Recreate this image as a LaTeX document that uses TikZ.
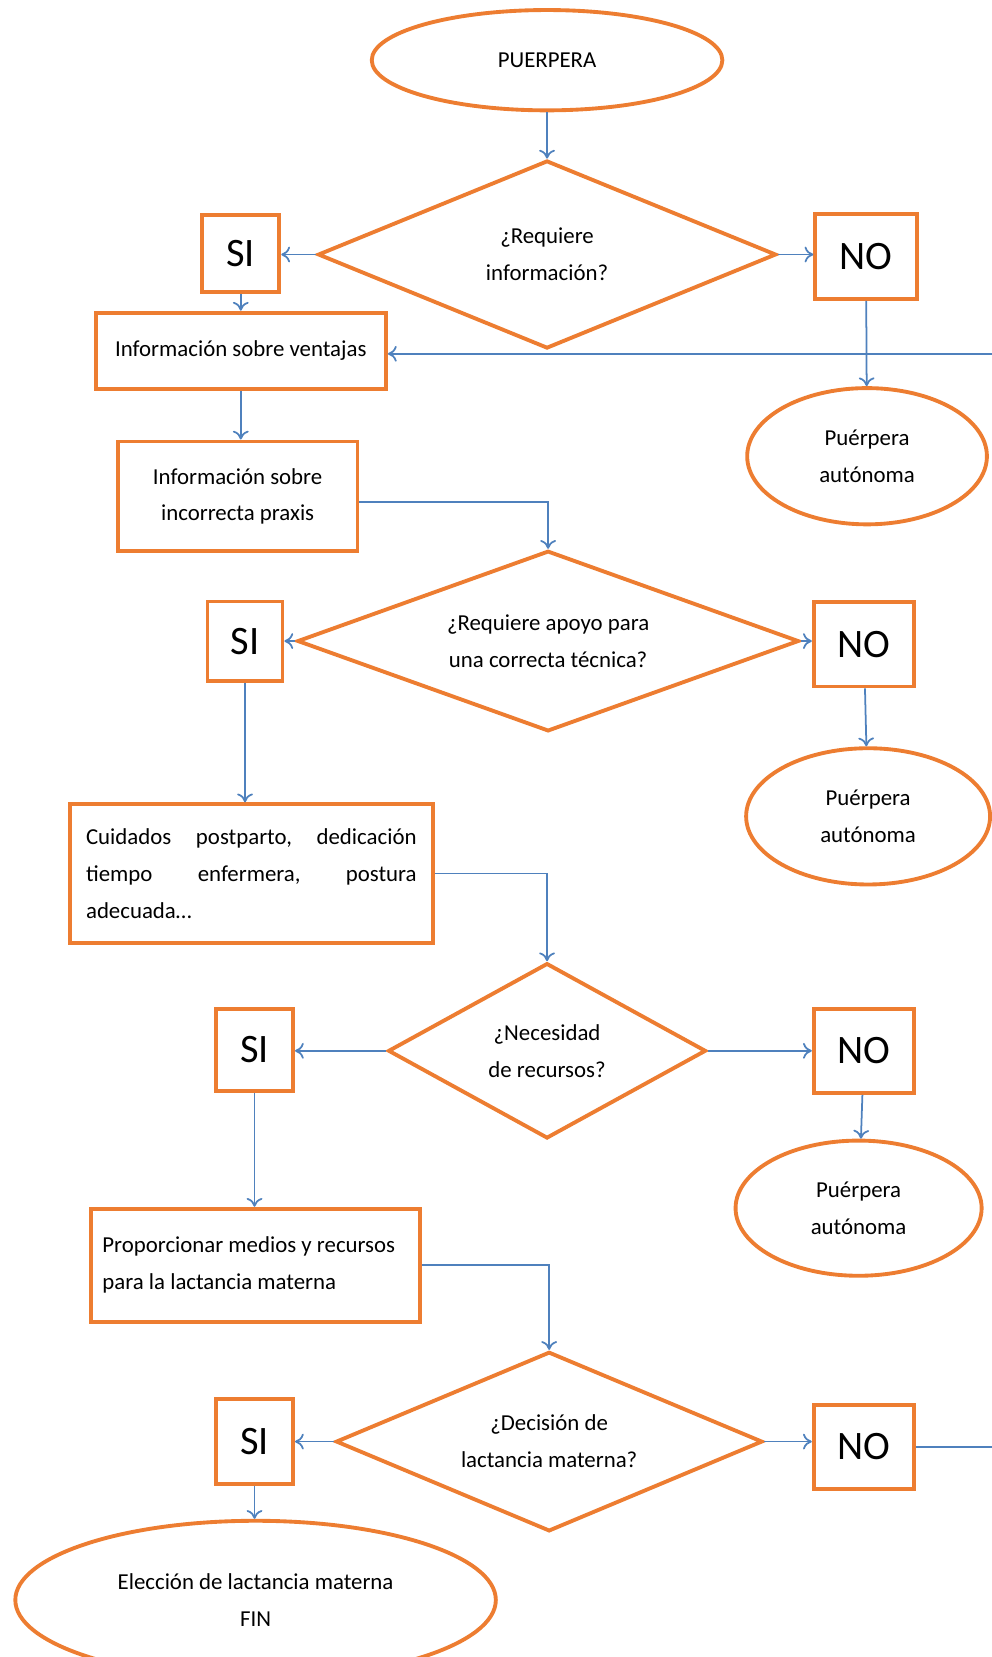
\documentclass[tikz,border=0pt]{standalone}
\usepackage{fontspec}
\setmainfont{Carlito}
\usepackage{xcolor}
\usepackage{tikz}
\usetikzlibrary{shapes.geometric}
\usetikzlibrary{arrows.meta}
\definecolor{naranja}{RGB}{237,125,49}
\definecolor{azul}{RGB}{79,129,189}
\tikzset{borde/.style={draw=naranja, line width=2.2pt, fill=white, inner sep=2pt}}
\tikzset{elipse/.style={borde, ellipse, align=center, font=\fontsize{13}{21}\selectfont}}
\tikzset{rombo/.style={borde, diamond, inner sep=0pt, align=center, font=\fontsize{13}{21}\selectfont}}
\tikzset{caja/.style={borde, rectangle, font=\fontsize{13}{21}\selectfont}}
\tikzset{resp/.style={borde, rectangle, font=\fontsize{23}{28}\selectfont}}
\tikzset{flecha/.style={draw=azul, line width=1pt, -{To[length=5pt,width=9pt]}}}

\begin{document}
\begin{tikzpicture}[x=0.02113cm, y=-0.02113cm]
\def\px{0.02113cm}
\useasboundingbox (0,0) rectangle (939,1569);

% inicio y primera pregunta
\node[elipse, minimum width=332*\px, minimum height=95*\px] (puerpera) at (518,57) {PUERPERA};
\node[rombo, aspect=2.44, minimum width=434*\px, minimum height=178*\px] (preg1) at (518,241) {¿Requiere\\información?};
\node[resp, minimum width=73*\px, minimum height=73*\px] (si1) at (228,240) {SI};
\node[resp, minimum width=96*\px, minimum height=80*\px] (no1) at (820,243) {NO};
\node[caja, minimum width=275*\px, minimum height=72*\px] (ventajas) at (228,332) {Información sobre ventajas};
\node[elipse, minimum width=227*\px, minimum height=129*\px] (auto1) at (821,432) {Puérpera\\autónoma};
\node[caja, align=center, minimum width=227*\px, minimum height=104*\px] (praxis) at (225,470) {Información sobre\\incorrecta praxis};

% segunda pregunta
\node[rombo, aspect=2.78, minimum width=475*\px, minimum height=171*\px] (preg2) at (519,607) {¿Requiere apoyo para\\una correcta técnica?};
\node[resp, minimum width=71*\px, minimum height=75*\px] (si2) at (232,607) {SI};
\node[resp, minimum width=95*\px, minimum height=80*\px] (no2) at (818,610) {NO};
\node[elipse, minimum width=231*\px, minimum height=129*\px] (auto2) at (822,773) {Puérpera\\autónoma};
\node[caja, align=left, text width=313*\px, minimum width=344*\px, minimum height=131*\px] (cuidados) at (238,827)
  {Cuidados\hfill postparto,\hfill dedicación\\tiempo\hfill enfermera,\hfill postura\\adecuada…};

% tercera pregunta
\node[rombo, aspect=1.81, minimum width=301*\px, minimum height=166*\px] (preg3) at (518,995) {¿Necesidad\\de recursos?};
\node[resp, minimum width=73*\px, minimum height=78*\px] (si3) at (241,994) {SI};
\node[resp, minimum width=95*\px, minimum height=80*\px] (no3) at (818,995) {NO};
\node[elipse, minimum width=233*\px, minimum height=128*\px] (auto3) at (813,1144) {Puérpera\\autónoma};
\node[caja, align=flush left, text width=290*\px, minimum width=311*\px, minimum height=107*\px] (medios) at (242,1198)
  {Proporcionar medios y recursos\\para la lactancia materna};

% cuarta pregunta
\node[rombo, aspect=2.38, minimum width=404*\px, minimum height=170*\px] (preg4) at (520,1365) {¿Decisión de\\lactancia materna?};
\node[resp, minimum width=73*\px, minimum height=80*\px] (si4) at (241,1365) {SI};
\node[resp, minimum width=95*\px, minimum height=80*\px] (no4) at (818,1370) {NO};
\node[elipse, minimum width=455*\px, minimum height=150*\px] (fin) at (242,1515) {Elección de lactancia materna\\FIN};

\draw[flecha] (puerpera) -- (preg1);
\draw[flecha] (preg1.west) -- (preg1.west -| si1.east);
\draw[flecha] (preg1.east) -- (preg1.east -| no1.west);
\draw[flecha] (si1) -- (si1 |- ventajas.north);
\draw[flecha] (no1) -- (auto1);
\draw[flecha] (ventajas.south) -- (ventajas.south |- praxis.north);
\draw[flecha] ([yshift=-5*\px]praxis.east) -| (preg2.north);

\draw[flecha] (preg2.west) -- (preg2.west -| si2.east);
\draw[flecha] (preg2.east) -- (preg2.east -| no2.west);
\draw[flecha] (no2) -- (auto2);
\draw[flecha] (si2) -- (si2 |- cuidados.north);
\draw[flecha] (cuidados.east) -| (preg3.north);

\draw[flecha] (preg3.west) -- (preg3.west -| si3.east);
\draw[flecha] (preg3.east) -- (preg3.east -| no3.west);
\draw[flecha] (no3) -- (auto3);
\draw[flecha] (si3) -- (si3 |- medios.north);
\draw[flecha] (medios.east) -| (preg4.north);

\draw[flecha] (preg4.west) -- (preg4.west -| si4.east);
\draw[flecha] (preg4.east) -- (preg4.east -| no4.west);
\draw[flecha] (si4) -- (si4 |- fin.north);
\draw[flecha] (no4.east) -- ++(130,0) |- ([yshift=-3*\px]ventajas.east); %vuelta
\end{tikzpicture}
\end{document}
